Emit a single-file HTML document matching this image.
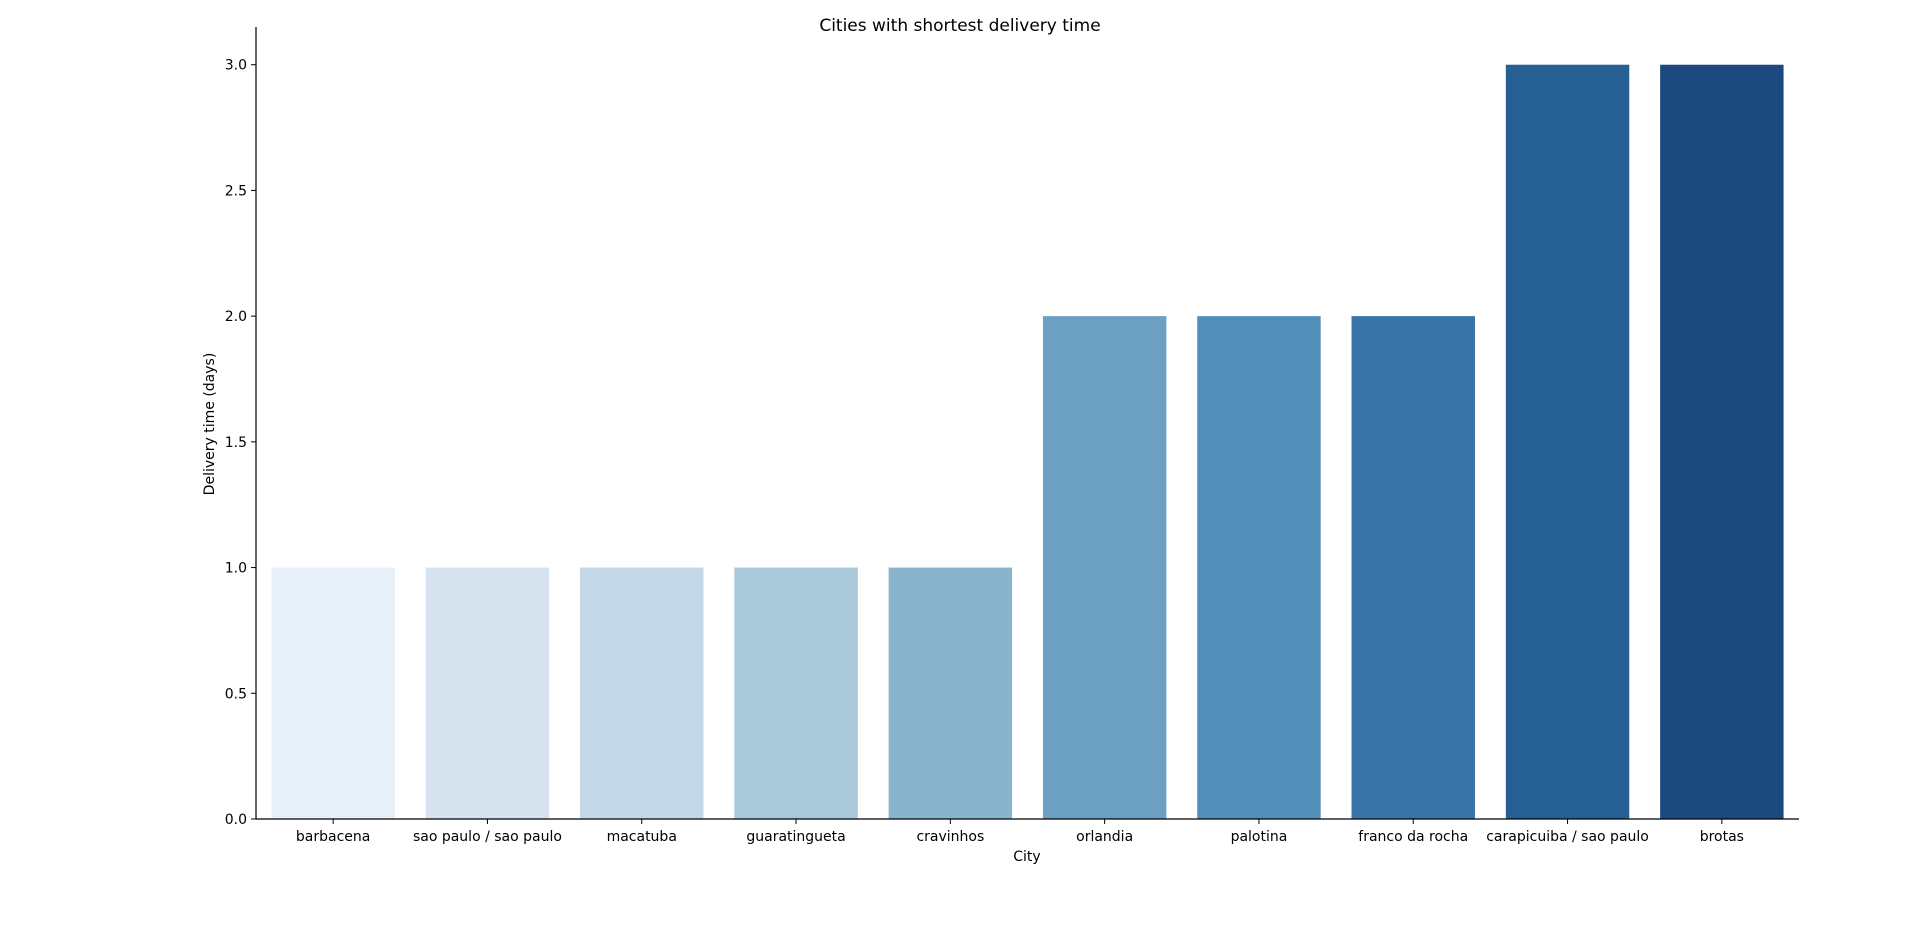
<!DOCTYPE html>
<html><head><meta charset="utf-8"><style>
body{margin:0;background:#fff;}
svg{display:block;font-family:"DejaVu Sans","Liberation Sans",sans-serif;}
</style></head><body>
<svg id="chart" width="1920" height="927" viewBox="0 0 1920 927">
<text x="960" y="31" text-anchor="middle" font-size="17">Cities with shortest delivery time</text>
<g id="bars"></g>
<g id="axes"></g>
<text x="1027" y="861" text-anchor="middle" font-size="14">City</text>
<text transform="translate(214,424) rotate(-90)" text-anchor="middle" font-size="14">Delivery time (days)</text>
</svg>
<script>
const categories=["barbacena","sao paulo / sao paulo","macatuba","guaratingueta","cravinhos","orlandia","palotina","franco da rocha","carapicuiba / sao paulo","brotas"];
const values=[1,1,1,1,1,2,2,2,3,3];
const colors=["#e7eff8","#d6e3ef","#c4d8e7","#a9c8da","#8ab4cb","#6ba0c2","#538ebb","#3874a7","#255f94","#1c4a7f"];
const yTicks=[0,0.5,1,1.5,2,2.5,3];
const yTickLabels=["0.0","0.5","1.0","1.5","2.0","2.5","3.0"];
const L=256,R=1799,T=27,B=819,ymax=3.15;
const NS="http://www.w3.org/2000/svg";
const step=(R-L)/categories.length;
const x=i=>L+step*(i+0.5);
const y=v=>B-(v/ymax)*(B-T);
const bars=document.getElementById('bars'),axes=document.getElementById('axes');
function mk(t,a,p){const e=document.createElementNS(NS,t);for(const k in a)e.setAttribute(k,a[k]);p.appendChild(e);return e;}
categories.forEach((c,i)=>{
 const r=mk('rect',{x:x(i)-step*0.4,y:y(values[i]),width:step*0.8,height:B-y(values[i]),fill:colors[i%colors.length]},bars);
 
 
 const tk=mk('line',{x1:x(i),x2:x(i),y1:B,y2:B+5,stroke:'#000','stroke-width':1},axes);
 
 
 const t=mk('text',{x:x(i),y:B+22,'text-anchor':'middle','font-size':'14'},axes);
 t.textContent=c;
 
 
});
yTicks.forEach((v,i)=>{
 const tk=mk('line',{x1:L-5,x2:L,y1:y(v),y2:y(v),stroke:'#000','stroke-width':1},axes);
 
 
 const t=mk('text',{x:L-9,y:y(v)+5,'text-anchor':'end','font-size':'14'},axes);
 t.textContent=yTickLabels[i];
 
 
});
const ya=mk('line',{x1:L,x2:L,y1:T,y2:B,stroke:'#000','stroke-width':1.2},axes);


const xa=mk('line',{x1:L,x2:R,y1:B,y2:B,stroke:'#000','stroke-width':1.2},axes);


</script>
</body></html>
